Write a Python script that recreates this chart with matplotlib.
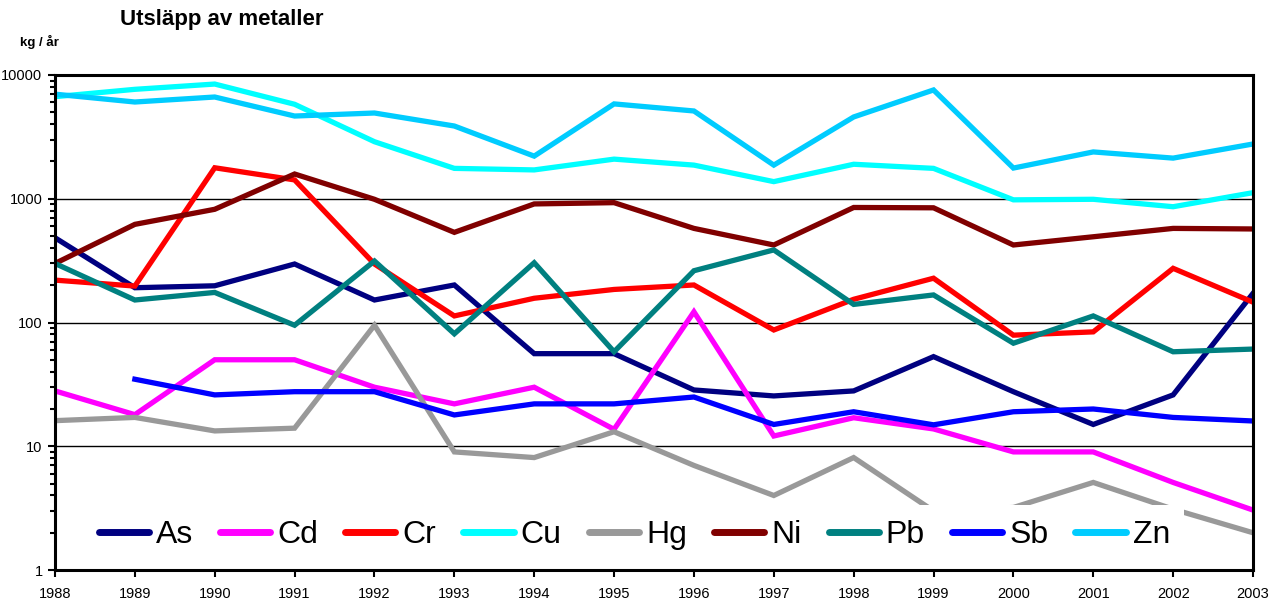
import numpy as np
import matplotlib
matplotlib.use("Agg")
import matplotlib.pyplot as plt
from matplotlib.ticker import LogLocator, FixedLocator, FixedFormatter, NullFormatter

plt.rcParams['font.family'] = ['Liberation Sans', 'DejaVu Sans']

years = list(range(1988, 2004))
As = [484, 191, 198, 297, 152, 201, 56, 56, 28.5, 25.5, 28, 53, 27.6, 15, 26, 172]
Cd = [28, 18, 50, 50, 30, 22, 30, 13.7, 122, 12.1, 17, 13.8, 9.0, 9.0, 5.1, 3.05]
Cr = [220, 197, 1780, 1420, 297, 113, 157, 185, 201, 87, 154, 228, 79, 84, 274, 146]
Cu = [6680, 7660, 8450, 5800, 2890, 1760, 1710, 2090, 1870, 1375, 1900, 1760, 980, 990, 862, 1120]
Hg = [16.1, 17.1, 13.3, 14, 95, 9.0, 8.1, 13.1, 7.0, 4.0, 8.1, 3.0, 3.2, 5.1, 3.1, 2.0]
Ni = [300, 621, 822, 1585, 990, 535, 908, 930, 576, 423, 850, 845, 423, 493, 576, 570]
Pb = [300, 152, 175, 95, 314, 81, 304, 58, 262, 386, 140, 167, 68, 113, 58, 61]
Sb = [np.nan, 34.8, 26, 27.6, 27.6, 17.9, 22, 22, 25, 15, 19, 14.9, 19, 20, 17.1, 16]
Zn = [7000, 6050, 6640, 4660, 4930, 3870, 2210, 5840, 5120, 1870, 4580, 7570, 1770, 2390, 2130, 2770]

series = [("As", As, "#000080"), ("Cd", Cd, "#FF00FF"), ("Cr", Cr, "#FF0000"),
          ("Cu", Cu, "#00FFFF"), ("Hg", Hg, "#999999"), ("Ni", Ni, "#800000"),
          ("Pb", Pb, "#008080"), ("Sb", Sb, "#0000FF"), ("Zn", Zn, "#00CCFF")]

fig = plt.figure(figsize=(12.81, 6.02), dpi=100)
ax = fig.add_axes([55/1281, 1-570/602, (1253-55)/1281, (570-75)/602])

for yv in [10, 100, 1000]:
    ax.axhline(yv, color='black', lw=1.0, zorder=1)

for name, vals, col in series:
    ax.plot(years, vals, color=col, lw=3.8, label=name, zorder=2,
            solid_joinstyle='miter')

ax.set_yscale('log')
ax.set_ylim(1, 10000)
ax.set_xlim(1988, 2003)
ax.yaxis.set_major_locator(FixedLocator([1, 10, 100, 1000, 10000]))
ax.yaxis.set_major_formatter(FixedFormatter(["1", "10", "100", "1000", "10000"]))
ax.yaxis.set_minor_locator(LogLocator(base=10, subs=np.arange(2, 10)))
ax.yaxis.set_minor_formatter(NullFormatter())
ax.set_xticks(years)
ax.set_xticklabels([str(y) for y in years])
ax.tick_params(axis='both', which='major', direction='out', length=5, width=1.5,
               labelsize=10.5, color='black', pad=4)
ax.tick_params(axis='y', which='minor', direction='out', length=3.5, width=1.5)
ax.tick_params(axis='x', labelsize=10.5, pad=7)
for s in ax.spines.values():
    s.set_linewidth(2.2)
    s.set_color('black')

leg = ax.legend(loc='center left', bbox_to_anchor=(0.011, 0.071), ncol=9,
                fontsize=23, frameon=True, facecolor='white', edgecolor='none',
                framealpha=1, fancybox=False, handlelength=1.57, handletextpad=0.22,
                columnspacing=0.85, borderpad=0.45)
leg.set_zorder(5)
for h in leg.get_lines():
    h.set_linewidth(5)
    h.set_solid_capstyle('round')

fig.text(120/1281, 1-20/602, "Utsläpp av metaller", fontsize=16, fontweight='bold',
         ha='left', va='center')
fig.text(20/1281, 1-42/602, "kg / år", fontsize=9.5, fontweight='bold',
         ha='left', va='center')

fig.savefig("out.png", dpi=100)
